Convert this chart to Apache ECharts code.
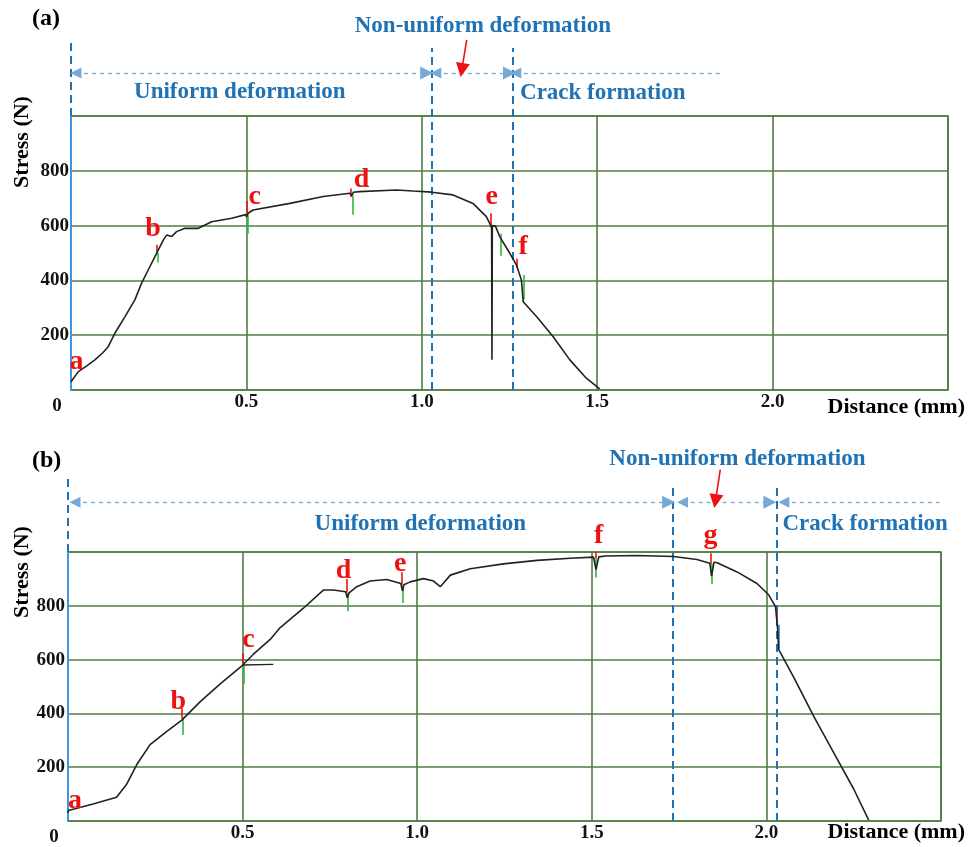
<!DOCTYPE html>
<html>
<head>
<meta charset="utf-8">
<title>Stress vs distance</title>
<script src="https://cdn.jsdelivr.net/npm/echarts@6/dist/echarts.min.js"></script>
<style>
  html, body { margin: 0; padding: 0; background: #fff; }
  #chart { width: 971px; height: 847px; }
</style>
</head>
<body>
<div id="chart"></div>
<script>
// ---- data ----
// panel (a)
const distA = [0.000, 0.002, 0.021, 0.045, 0.068, 0.090, 0.106, 0.125, 0.154, 0.182, 0.201, 0.220, 0.244, 0.263, 0.273, 0.287, 0.301, 0.325, 0.363, 0.401, 0.458, 0.498, 0.500, 0.505, 0.519, 0.624, 0.719, 0.795, 0.800, 0.805, 0.823, 0.928, 0.975, 1.028, 1.089, 1.146, 1.184, 1.196, 1.199, 1.200, 1.201, 1.210, 1.222, 1.251, 1.270, 1.284, 1.289, 1.327, 1.374, 1.422, 1.469, 1.507];
const stressA = [30, 36, 67, 88, 110, 135, 158, 207, 268, 329, 389, 438, 499, 547, 566, 560, 578, 590, 590, 614, 627, 640, 632, 645, 657, 681, 706, 718, 708, 722, 724, 730, 726, 722, 712, 681, 633, 602, 590, 110, 600, 598, 560, 499, 456, 401, 322, 268, 195, 110, 43, 4];
// panel (b)
const distB = [0.000, 0.001, 0.072, 0.139, 0.168, 0.197, 0.235, 0.283, 0.326, 0.378, 0.436, 0.498, 0.531, 0.579, 0.607, 0.674, 0.732, 0.760, 0.795, 0.800, 0.805, 0.827, 0.865, 0.913, 0.953, 0.958, 0.962, 0.980, 1.018, 1.047, 1.066, 1.095, 1.152, 1.247, 1.343, 1.438, 1.505, 1.512, 1.520, 1.539, 1.629, 1.734, 1.801, 1.838, 1.843, 1.850, 1.859, 1.916, 1.973, 2.007, 2.026, 2.032, 2.035, 2.078, 2.136, 2.193, 2.250, 2.293];
const stressB = [30, 39, 63, 88, 137, 210, 284, 333, 375, 443, 510, 577, 620, 675, 718, 791, 859, 859, 852, 830, 848, 871, 892, 898, 883, 855, 878, 889, 901, 892, 871, 914, 938, 956, 969, 977, 981, 935, 982, 985, 987, 983, 972, 958, 910, 962, 960, 926, 883, 840, 797, 718, 638, 535, 388, 253, 119, 3];
const branchB = [[0.500, 580], [0.588, 582]];

// event ticks: [x, top, bottom]
const redTicksA = [[0.244, 530, 500], [0.500, 690, 640], [0.798, 735, 705], [1.196, 645, 600], [1.272, 480, 445]];
const greenTicksA = [[0.247, 500, 465], [0.503, 640, 570], [0.802, 710, 640], [1.198, 600, 555], [1.224, 570, 490], [1.290, 420, 330]];
const redTicksB = [[0.326, 420, 380], [0.500, 625, 580], [0.798, 900, 850], [0.956, 925, 880], [1.510, 1000, 975], [1.840, 995, 955], [2.030, 800, 740]];
const greenTicksB = [[0.329, 385, 320], [0.503, 580, 510], [0.800, 850, 780], [0.958, 880, 810], [1.512, 975, 905], [1.843, 955, 880]];
const blueTicksB = [[2.035, 730, 640]];

// point letters: [x, y, letter]
const lettersA = [[0.016, 103, 'a'], [0.234, 590, 'b'], [0.524, 706, 'c'], [0.828, 767, 'd'], [1.199, 706, 'e'], [1.289, 523, 'f']];
const lettersB = [[0.020, 77, 'a'], [0.316, 443, 'b'], [0.517, 675, 'c'], [0.789, 932, 'd'], [0.951, 956, 'e'], [1.520, 1060, 'f'], [1.840, 1060, 'g']];

// stage boundaries and annotations
const boundsA = [1.028, 1.26];
const boundsB = [1.733, 2.03];
const spansA = [[0.014, 1.014], [1.040, 1.250]];
const openSpanA = [1.268, 1.855];
const spansB = [[0.020, 1.720], [1.760, 2.010]];
const openSpanB = [2.050, 2.495];
const stageTextA = [[0.481, 1088, 'Uniform deformation', 'center'], [1.174, 1329, 'Non-uniform deformation', 'center'], [1.280, 1084, 'Crack formation', 'left']];
const stageTextB = [[1.009, 1105, 'Uniform deformation', 'center'], [1.917, 1347, 'Non-uniform deformation', 'center'], [2.046, 1105, 'Crack formation', 'left']];
const redArrowA = [[1.128, 1278], [1.114, 1168]];
const redArrowB = [[1.868, 1306], [1.854, 1189]];
const arrowRowA = 1157, arrowRowB = 1185;
const boundTopA = 1248, boundTopB = 1251;
const leftTopA = 1270, leftTopB = 1288;

const xTicks = [0, 0.5, 1.0, 1.5, 2.0, 2.5];
const yTicks = [0, 200, 400, 600, 800, 1000];

// ---- styles ----
const FONT = 'Liberation Serif';
const GREEN = '#4e7d44';
const BLUE = '#1f72b4';
const RED = '#ee1111';

function zip(xs, ys) { return xs.map((x, i) => [x, ys[i]]); }

function ticks(list, color, idx) {
  return {
    type: 'lines', coordinateSystem: 'cartesian2d', xAxisIndex: idx, yAxisIndex: idx,
    clip: false, silent: true, symbol: ['none', 'none'],
    lineStyle: { color: color, width: 1.6, opacity: 1 },
    data: list.map(t => ({ coords: [[t[0], t[1]], [t[0], t[2]]] }))
  };
}

function panelSeries(idx, dist, stress, reds, greens, letters, bounds, spans, openSpan, texts, redArrow, row, bTop, lTop) {
  const out = [];
  out.push({
    type: 'line', xAxisIndex: idx, yAxisIndex: idx, data: zip(dist, stress),
    showSymbol: false, symbol: 'none', clip: false,
    lineStyle: { color: '#222', width: 1.6 }, z: 3
  });
  out.push(ticks(reds, RED, idx));
  out.push(ticks(greens, '#33b33a', idx));
  // boundary dashed verticals
  out.push({
    type: 'lines', coordinateSystem: 'cartesian2d', xAxisIndex: idx, yAxisIndex: idx,
    clip: false, silent: true, symbol: ['none', 'none'],
    lineStyle: { color: BLUE, width: 2, type: [8, 5], opacity: 1 },
    data: bounds.map(b => ({ coords: [[b, 0], [b, bTop]] })).concat([{ coords: [[0, 1000], [0, lTop]] }])
  });
  // stage arrows
  out.push({
    type: 'lines', coordinateSystem: 'cartesian2d', xAxisIndex: idx, yAxisIndex: idx,
    clip: false, silent: true, symbol: ['triangle', 'triangle'], symbolSize: [11, 13],
    lineStyle: { color: '#76a9d8', width: 1.3, type: [4, 4], opacity: 1 },
    itemStyle: { color: '#4f93d2', opacity: 1 },
    data: spans.map(s => ({ coords: [[s[0], row], [s[1], row]] }))
  });
  out.push({
    type: 'lines', coordinateSystem: 'cartesian2d', xAxisIndex: idx, yAxisIndex: idx,
    clip: false, silent: true, symbol: ['triangle', 'none'], symbolSize: [11, 13],
    lineStyle: { color: '#76a9d8', width: 1.3, type: [4, 4], opacity: 1 },
    itemStyle: { color: '#4f93d2', opacity: 1 },
    data: [{ coords: [[openSpan[0], row], [openSpan[1], row]] }]
  });
  out.push({
    type: 'lines', coordinateSystem: 'cartesian2d', xAxisIndex: idx, yAxisIndex: idx,
    clip: false, silent: true, symbol: ['none', 'triangle'], symbolSize: [12, 14],
    lineStyle: { color: RED, width: 1.6, type: 'solid', opacity: 1 },
    itemStyle: { color: RED, opacity: 1 },
    data: [{ coords: redArrow }]
  });
  // letters
  out.push({
    type: 'scatter', xAxisIndex: idx, yAxisIndex: idx, clip: false, silent: true,
    symbolSize: 1, itemStyle: { color: 'rgba(0,0,0,0)', opacity: 1 }, data: letters,
    label: {
      show: true, position: 'inside', formatter: p => p.data[2],
      color: RED, fontFamily: FONT, fontWeight: 'bold', fontSize: 28
    }, z: 5
  });
  // stage names
  out.push({
    type: 'scatter', xAxisIndex: idx, yAxisIndex: idx, clip: false, silent: true,
    symbolSize: 1, itemStyle: { color: 'rgba(0,0,0,0)', opacity: 1 },
    data: texts.map(t => ({
      value: [t[0], t[1]], name: t[2],
      label: { align: t[3] }
    })),
    label: {
      show: true, position: 'inside', formatter: p => p.name,
      color: BLUE, fontFamily: FONT, fontWeight: 'bold', fontSize: 23
    }
  });
  return out;
}

function xAxisFor(idx, gap, pad) {
  return {
    type: 'value', gridIndex: idx, min: xTicks[0], max: xTicks[xTicks.length - 1], interval: 0.5,
    name: 'Distance (mm)', nameLocation: 'end', nameGap: gap,
    nameTextStyle: { color: '#000', fontFamily: FONT, fontWeight: 'bold', fontSize: 22, align: 'right', verticalAlign: 'top', padding: [pad, 0, 0, 0] },
    axisLine: { show: false }, axisTick: { show: false },
    splitLine: { show: true, lineStyle: { color: GREEN, width: 1.6 } },
    axisLabel: {
      margin: 3, color: '#111', fontFamily: FONT, fontWeight: 'bold', fontSize: 19,
      formatter: v => v === 0 ? '{z|0}' : (v === 2.5 ? '' : v.toFixed(1)),
      rich: { z: { padding: [4, 28, 0, 0], fontFamily: FONT, fontWeight: 'bold', fontSize: 19, color: '#111' } }
    }
  };
}

function yAxisFor(idx, margin) {
  return {
    type: 'value', gridIndex: idx, min: yTicks[0], max: yTicks[yTicks.length - 1], interval: 200,
    axisLine: { show: true, lineStyle: { color: '#3f95e0', width: 2 } },
    axisTick: { show: false },
    splitLine: { show: true, lineStyle: { color: GREEN, width: 1.6 } },
    axisLabel: {
      margin: margin, color: '#111', fontFamily: FONT, fontWeight: 'bold', fontSize: 19,
      formatter: v => (v === 0 || v === 1000) ? '' : String(v)
    }
  };
}

const myChart = echarts.init(document.getElementById('chart'));
const option = {
  animation: false,
  backgroundColor: '#fff',
  grid: [
    { left: 71, top: 116, width: 877, height: 274, show: true, borderColor: GREEN, borderWidth: 1.6 },
    { left: 68, top: 552, width: 873, height: 272, show: true, borderColor: GREEN, borderWidth: 1.6 }
  ],
  xAxis: [xAxisFor(0, 17, 6), xAxisFor(1, 24, 0)],
  yAxis: [yAxisFor(0, 2), yAxisFor(1, 3)],
  graphic: [
    { type: 'text', left: 32, top: 7, style: { text: '(a)', font: 'bold 24px "Liberation Serif"', fill: '#000' } },
    { type: 'text', left: 32, top: 449, style: { text: '(b)', font: 'bold 24px "Liberation Serif"', fill: '#000' } },
    { type: 'text', x: 22, y: 142, rotation: Math.PI / 2, style: { text: 'Stress (N)', font: 'bold 22px "Liberation Serif"', fill: '#000', align: 'center', verticalAlign: 'middle' } },
    { type: 'text', x: 22, y: 572, rotation: Math.PI / 2, style: { text: 'Stress (N)', font: 'bold 22px "Liberation Serif"', fill: '#000', align: 'center', verticalAlign: 'middle' } }
  ],
  series: [].concat(
    panelSeries(0, distA, stressA, redTicksA, greenTicksA, lettersA, boundsA, spansA, openSpanA, stageTextA, redArrowA, arrowRowA, boundTopA, leftTopA),
    panelSeries(1, distB, stressB, redTicksB, greenTicksB, lettersB, boundsB, spansB, openSpanB, stageTextB, redArrowB, arrowRowB, boundTopB, leftTopB),
    [
      { type: 'line', xAxisIndex: 1, yAxisIndex: 1, data: branchB, symbol: 'none', lineStyle: { color: '#222', width: 1.3 } },
      ticks(blueTicksB, '#2f7fd0', 1)
    ]
  )
};
myChart.setOption(option);
window.addEventListener('resize', () => myChart.resize());
</script>
</body>
</html>
